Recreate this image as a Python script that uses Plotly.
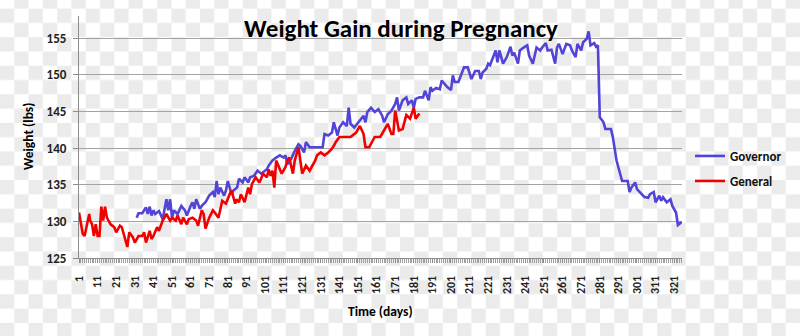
import base64
import plotly.graph_objects as go

# ---------------- data ----------------
general_days = [1, 3, 4, 6, 6.5, 7, 8, 9, 10, 11, 12, 13, 14, 15, 16, 18, 20, 21, 23, 24, 26, 27, 28, 30, 31,
                33, 35, 36, 37, 39, 40, 41, 43, 44, 46, 48, 50, 51, 53, 54, 56, 57, 59, 60, 62, 64, 65,
                67, 68, 69, 71, 73, 74, 76, 78, 80, 82, 83, 85, 85.5, 87, 88, 90, 92, 93, 94, 96, 98,
                100, 102, 103, 104, 105, 106, 107, 110, 112, 113, 114, 116, 117, 119, 120, 121, 123,
                125, 128, 129, 131, 133, 135, 137, 138, 139, 141, 145, 147, 150, 152, 154, 155, 157,
                160, 163, 165, 167, 169, 170, 171, 173, 175, 177, 179, 180, 181, 182, 184]
general_vals = [131.2, 128.3, 128.0, 130.1, 131.0, 130.1, 129.6, 128.0, 129.6, 128.0, 128.0, 132.0, 130.1,
                132.0, 130.5, 129.6, 129.2, 128.5, 129.4, 129.2, 127.4, 126.5, 128.5, 127.8, 127.1,
                128.0, 128.0, 128.5, 127.1, 128.7, 127.6, 128.0, 129.2, 128.7, 130.1, 131.0, 130.1,
                130.5, 130.1, 130.8, 129.6, 130.5, 129.6, 130.3, 130.5, 130.1, 129.4, 131.5, 131.0,
                129.0, 130.5, 131.5, 131.2, 130.5, 132.8, 132.4, 133.7, 134.2, 132.4, 133.0, 132.6,
                133.7, 132.6, 134.6, 133.7, 135.1, 136.0, 135.3, 136.5, 136.0, 137.1, 136.2, 136.9,
                134.6, 138.3, 136.5, 137.4, 138.3, 138.7, 136.5, 138.3, 140.1, 138.3, 136.5, 137.6,
                136.9, 138.3, 139.0, 139.4, 139.0, 139.4, 139.9, 140.3, 140.8, 141.5, 141.5, 141.5,
                142.1, 143.0, 141.9, 140.1, 140.1, 141.5, 141.5, 142.4, 143.3, 141.9, 141.9, 145.1,
                142.4, 142.6, 144.5, 144.0, 144.7, 145.5, 144.0, 144.7]

governor_days = [32, 33, 35, 37, 38, 39, 40, 41, 42, 44, 46, 48, 49, 50, 51, 52, 54, 56, 58, 59, 61, 62, 63,
                 64, 66, 67, 69, 71, 73, 74, 75, 76, 77, 79, 80, 81, 83, 84, 86, 87, 89, 90, 92, 93, 95,
                 97, 99, 102, 103, 105, 107, 109, 111, 112, 113, 115, 117, 119, 120, 122, 123, 125, 127,
                 130, 132, 133, 135, 137, 138, 140, 141, 143, 145, 146, 147, 149, 151, 154, 155, 156, 158,
                 160, 162, 164, 165, 167, 169, 171, 172, 173, 175, 177, 178, 180, 181, 182, 184, 186, 187,
                 189, 190, 191, 193, 195, 196, 198, 199, 201, 202, 203, 205, 208, 210, 212, 214, 216, 217,
                 218, 220, 221, 222, 225, 226, 227, 229, 231, 233, 234, 235, 237, 238, 240, 242, 243, 245,
                 247, 249, 250, 252, 253, 255, 257, 258, 259, 261, 263, 265, 266, 268, 269, 271, 272, 274,
                 275, 276, 278, 279, 280, 281, 283, 284, 287, 288, 290, 292, 293, 296, 297, 298, 300, 301,
                 303, 305, 307, 308, 310, 311, 313, 314, 315, 317, 319, 320, 322, 323, 325]
governor_vals = [130.5, 131.1, 131.1, 131.9, 131.0, 132.0, 130.8, 131.5, 131.0, 131.4, 130.3, 133.0, 131.5,
                 133.0, 130.5, 131.5, 131.0, 132.1, 131.5, 130.8, 132.1, 132.6, 131.7, 133.0, 131.7, 132.1,
                 132.6, 133.5, 134.0, 133.3, 135.5, 133.7, 134.6, 133.5, 134.2, 135.5, 133.7, 134.2, 134.6,
                 135.8, 135.3, 136.0, 135.3, 136.0, 136.2, 136.9, 136.5, 137.1, 137.6, 138.3, 138.7, 139.0,
                 138.7, 139.0, 137.8, 138.5, 139.6, 140.5, 140.3, 139.4, 140.8, 140.1, 140.1, 140.1, 140.1,
                 141.9, 141.7, 142.1, 143.5, 141.7, 142.8, 143.5, 143.0, 145.5, 143.3, 142.8, 143.5, 144.4,
                 143.5, 144.9, 145.5, 144.9, 145.3, 144.4, 143.5, 144.6, 145.1, 146.0, 146.9, 145.1, 146.5,
                 146.9, 146.0, 146.5, 145.5, 146.7, 146.9, 146.9, 147.8, 146.5, 148.3, 147.8, 148.2, 148.0,
                 149.2, 148.5, 148.3, 147.9, 149.9, 149.0, 149.0, 151.0, 151.0, 149.4, 150.5, 150.5, 149.4,
                 150.3, 150.8, 151.5, 151.3, 153.3, 151.7, 153.3, 151.5, 152.4, 153.8, 152.6, 153.0, 151.5,
                 153.3, 153.7, 154.0, 152.6, 151.5, 153.7, 153.3, 153.7, 154.3, 153.3, 153.4, 151.5, 153.7,
                 154.2, 152.8, 154.2, 154.0, 153.3, 152.4, 154.2, 153.3, 154.4, 154.9, 155.9, 154.0, 154.3,
                 153.8, 154.0, 144.2, 143.5, 142.6, 142.6, 141.5, 138.3, 136.5, 135.5, 135.5, 134.0, 134.6,
                 135.3, 134.4, 133.8, 133.3, 133.2, 133.7, 134.0, 132.6, 133.5, 132.8, 133.3, 132.6, 133.0,
                 132.1, 131.2, 129.5, 129.9]

x_tick_vals = list(range(1, 322, 10))
x_tick_text = [str(v) for v in x_tick_vals]

title_text = "Weight Gain during Pregnancy"
x_title = "Time (days)"
y_title = "Weight (lbs)"

# ---------------- geometry ----------------
W, H = 800, 336
L, R, T, B = 79, 118, 16, 78
PW, PH = W - L - R, H - T - B

FONT = "Carlito, Lato, 'Open Sans', sans-serif"
BLUE = "#5244d6"
RED = "#f20000"

# checkerboard backdrop (transparency pattern of the reference image)
sq = 800 / 56
svg = (f'<svg xmlns="http://www.w3.org/2000/svg" width="{W}" height="{H}">'
       f'<defs><pattern id="p" x="0" y="8.6" width="{2*sq}" height="{2*sq}" patternUnits="userSpaceOnUse">'
       f'<rect width="{2*sq}" height="{2*sq}" fill="#ffffff"/>'
       f'<rect width="{sq}" height="{sq}" fill="#ebebeb"/>'
       f'<rect x="{sq}" y="{sq}" width="{sq}" height="{sq}" fill="#ebebeb"/>'
       f'</pattern></defs><rect width="{W}" height="{H}" fill="url(#p)"/></svg>')
svg_uri = "data:image/svg+xml;base64," + base64.b64encode(svg.encode()).decode()

fig = go.Figure()
fig.add_trace(go.Scatter(x=governor_days, y=governor_vals, mode="lines", name="Governor",
                         line=dict(color=BLUE, width=2.6), legend="legend"))
fig.add_trace(go.Scatter(x=general_days, y=general_vals, mode="lines", name="General",
                         line=dict(color=RED, width=2.6), legend="legend2"))

legend_common = dict(xref="paper", yref="paper", xanchor="left", yanchor="middle",
                     bgcolor="rgba(0,0,0,0)", borderwidth=0,
                     font=dict(family=FONT, size=13, color="#111111", weight="bold"))
fig.update_layout(
    width=W, height=H,
    margin=dict(l=L, r=R, t=T, b=B, autoexpand=False),
    paper_bgcolor="white",
    plot_bgcolor="rgba(0,0,0,0)",
    showlegend=True,
    legend=dict(x=(690 - L) / PW, y=(T + PH - 156) / PH, **legend_common),
    legend2=dict(x=(690 - L) / PW, y=(T + PH - 181) / PH, **legend_common),
    title=dict(text=title_text, x=401 / W, y=1 - 28 / H, xref="container", yref="container",
               xanchor="center", yanchor="middle",
               font=dict(family=FONT, size=25, color="black", weight="bold")),
    images=[dict(source=svg_uri, xref="paper", yref="paper", x=-L / PW, y=1 + T / PH,
                 sizex=W / PW, sizey=H / PH, sizing="stretch", xanchor="left", yanchor="top",
                 layer="below")],
    xaxis=dict(range=[1, 325.2], tickmode="array", tickvals=x_tick_vals, ticktext=x_tick_text,
               tickangle=-90, showgrid=False, zeroline=False, showline=True, linecolor="#8c8c8c",
               linewidth=1, ticks="outside", ticklen=4, tickcolor="#8c8c8c", ticklabelstandoff=8,
               minor=dict(tick0=1, dtick=1, ticks="outside", ticklen=4, tickcolor="#a0a0a0", showgrid=False),
               tickfont=dict(family=FONT, size=12, color="#222222", weight="bold"), automargin=False),
    yaxis=dict(range=[125, 158], tick0=125, dtick=5, showgrid=True, gridcolor="#a3a3a3", gridwidth=1,
               zeroline=False, showline=True, linecolor="#8c8c8c", linewidth=1, ticks="outside",
               ticklen=5, tickcolor="#8c8c8c", ticklabelstandoff=4,
               tickfont=dict(family=FONT, size=13, color="#222222", weight="bold"), automargin=False),
    annotations=[
        dict(text=y_title, xref="paper", yref="paper", x=(28 - L) / PW, y=0.5, textangle=-90,
             showarrow=False, xanchor="center", yanchor="middle",
             font=dict(family=FONT, size=13.5, color="black", weight="bold")),
        dict(text=x_title, xref="paper", yref="paper", x=(380.5 - L) / PW, y=(T + PH - 311) / PH,
             showarrow=False, xanchor="center", yanchor="middle",
             font=dict(family=FONT, size=13.5, color="black", weight="bold")),
    ],
)

fig.write_html("out.html")
